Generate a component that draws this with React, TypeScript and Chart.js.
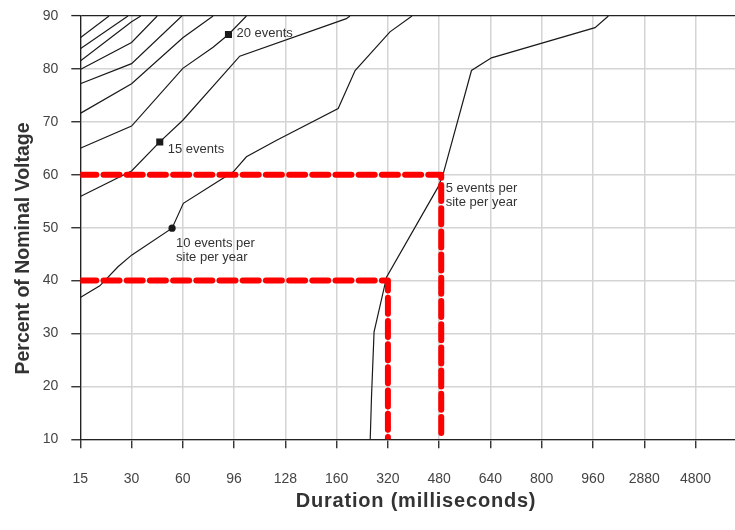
import { useEffect, useRef } from 'react';
import { Chart, registerables } from 'chart.js';

Chart.register(...registerables);

// Category labels of the duration axis (equally spaced)
const durationLabels = ['15', '30', '60', '96', '128', '160', '320', '480', '640', '800', '960', '2880', '4800'];
const voltageMin = 10;
const voltageMax = 90;
const voltageStep = 10;
const durationMax = 12.77; // plot continues a bit past the last category

// Contour lines: x = position along the duration categories, y = percent of nominal voltage
const c5X = [5.655, 5.68, 5.73, 5.975, 6.98, 7.08, 7.63, 8.02, 10.04, 10.3];
const c5Y = [10, 18.0, 30.3, 40.7, 57.7, 60.2, 79.7, 82.1, 87.8, 90];
const c10X = [0, 0.38, 0.735, 1.0, 1.79, 2.01, 2.66, 2.98, 3.24, 3.83, 5.03, 5.36, 6.04, 6.47];
const c10Y = [36.8, 39.0, 42.6, 44.8, 49.9, 54.6, 58.6, 60.5, 63.4, 66.5, 72.5, 79.7, 87.0, 90];
const c15X = [0, 1.0, 1.55, 2.0, 3.11, 5.19, 5.26];
const c15Y = [55.9, 60.7, 66.2, 70.3, 82.4, 89.5, 90];
const c20X = [0, 1.0, 2.0, 2.59, 2.89, 3.24];
const c20Y = [65.0, 69.2, 80.1, 84.1, 86.5, 90];
const c25X = [0, 1.0, 2.0, 2.59];
const c25Y = [71.6, 77.2, 85.9, 90];
const c30X = [0, 1.0, 1.98];
const c30Y = [77.2, 81.0, 90];
const c35X = [0, 1.0, 1.5];
const c35Y = [79.9, 85.0, 90];
const c40X = [0, 1.0, 1.18];
const c40Y = [81.5, 88.9, 90];
const c45X = [0, 0.93];
const c45Y = [83.8, 90];
const c50X = [0, 0.56];
const c50Y = [85.9, 90];

// Labelled markers on the contours
const markerX = [1.79, 1.55, 2.89];
const markerY = [49.9, 66.2, 86.5];
const markerShape = ['circle', 'rect', 'rect'];

// Red threshold guides
const guide40X = [0, 6, 6];
const guide40Y = [40, 40, 10];
const guide60X = [0, 7.04, 7.04];
const guide60Y = [60, 60, 10];

// Annotation texts with their data anchors
const noteText = [['20 events'], ['15 events'], ['10 events per', 'site per year'], ['5 events per', 'site per year']];
const noteX = [2.89, 1.55, 1.79, 7.04];
const noteY = [86.5, 66.2, 49.9, 60];

const xTitle = 'Duration (milliseconds)';
const yTitle = 'Percent of Nominal Voltage';

const FONT = '"Liberation Sans", Arial, sans-serif';

const pts = (xs: number[], ys: number[]) => xs.map((x, i) => ({ x, y: ys[i] }));

export default function App() {
  const ref = useRef<HTMLCanvasElement | null>(null);

  useEffect(() => {
    if (!ref.current) return;

    const noteOffsets = [
      { dx: 8, dy: -1 },
      { dx: 8, dy: 7.5 },
      { dx: 4, dy: 15 },
      { dx: 4.5, dy: 13.5 },
    ];

    const overlay = {
      id: 'overlay',
      afterDatasetsDraw(chart: any) {
        const { ctx, scales } = chart;
        const xs = scales.x;
        const ys = scales.y;
        ctx.save();
        ctx.fillStyle = '#333';
        ctx.font = `13px ${FONT}`;
        ctx.textAlign = 'left';
        ctx.textBaseline = 'middle';
        noteText.forEach((lines, i) => {
          const px = xs.getPixelForValue(noteX[i]) + noteOffsets[i].dx;
          const py = ys.getPixelForValue(noteY[i]) + noteOffsets[i].dy;
          lines.forEach((t, j) => ctx.fillText(t, px, py + j * 14));
        });
        ctx.restore();
      },
      afterDraw(chart: any) {
        const { ctx, chartArea } = chart;
        ctx.save();
        ctx.fillStyle = '#333';
        ctx.font = `bold 20px ${FONT}`;
        ctx.textBaseline = 'alphabetic';
        ctx.textAlign = 'center';
        try { (ctx as any).letterSpacing = '0.8px'; } catch (e) {}
        ctx.fillText(xTitle, 416, chartArea.bottom + 67.5);
        try { (ctx as any).letterSpacing = '0px'; } catch (e) {}
        ctx.translate(chartArea.left - 51, 248.5);
        ctx.rotate(-Math.PI / 2);
        ctx.font = `bold 19.5px ${FONT}`;
        ctx.fillText(yTitle, 0, 0);
        ctx.restore();
      },
    };

    const contour = (xs: number[], ys: number[]) => ({
      type: 'line' as const,
      data: pts(xs, ys),
      borderColor: '#1a1a1a',
      borderWidth: 1.2,
      pointRadius: 0,
      tension: 0,
      fill: false,
      order: 3,
    });

    const guide = (xs: number[], ys: number[]) => ({
      type: 'line' as const,
      data: pts(xs, ys),
      borderColor: '#ff0000',
      borderWidth: 6,
      borderDash: [16, 7.2],
      borderCapStyle: 'round' as const,
      borderJoinStyle: 'round' as const,
      pointRadius: 0,
      tension: 0,
      fill: false,
      order: 1,
    });

    const chart = new Chart(ref.current, {
      type: 'line',
      data: {
        datasets: [
          guide(guide40X, guide40Y),
          guide(guide60X, guide60Y),
          {
            type: 'scatter' as const,
            data: pts(markerX, markerY),
            pointStyle: markerShape as any,
            pointRadius: [3.6, 5, 5],
            pointBackgroundColor: '#1a1a1a',
            pointBorderColor: '#1a1a1a',
            pointBorderWidth: 0,
            showLine: false,
            order: 2,
          } as any,
          contour(c5X, c5Y),
          contour(c10X, c10Y),
          contour(c15X, c15Y),
          contour(c20X, c20Y),
          contour(c25X, c25Y),
          contour(c30X, c30Y),
          contour(c35X, c35Y),
          contour(c40X, c40Y),
          contour(c45X, c45Y),
          contour(c50X, c50Y),
        ] as any,
      },
      options: {
        responsive: false,
        animation: false,
        layout: { autoPadding: false, padding: { top: 16, right: 0, left: 0, bottom: 0 } },
        plugins: {
          legend: { display: false },
          tooltip: { enabled: false },
          title: { display: false },
        },
        scales: {
          x: {
            type: 'linear',
            min: 0,
            max: durationMax,
            afterBuildTicks: (s: any) => {
              s.ticks = durationLabels.map((_, i) => ({ value: i }));
            },
            afterFit: (s: any) => {
              s.height = 90.7;
              s.paddingLeft = 0;
              s.paddingRight = 0;
            },
            ticks: {
              autoSkip: false,
              maxRotation: 0,
              padding: 22.5,
              color: '#444',
              font: { family: FONT, size: 14 },
              callback: (v: any) => durationLabels[Math.round(Number(v))] ?? '',
            },
            grid: {
              color: '#d4d4d4',
              lineWidth: 1.5,
              tickLength: 9,
              tickColor: '#222',
              tickWidth: 1.3,
            },
            border: { color: '#222', width: 1.3 },
          },
          y: {
            type: 'linear',
            min: voltageMin,
            max: voltageMax,
            afterFit: (s: any) => {
              s.width = 80.3;
              s.paddingTop = 0;
              s.paddingBottom = 0;
            },
            ticks: {
              stepSize: voltageStep,
              padding: 13,
              color: '#444',
              font: { family: FONT, size: 14 },
            },
            grid: {
              color: (c: any) => (c.tick && c.tick.value === voltageMax ? '#222' : '#d4d4d4'),
              lineWidth: (c: any) => (c.tick && c.tick.value === voltageMax ? 1.2 : 1.5),
              tickLength: 9,
              tickColor: '#222',
              tickWidth: 1.3,
            },
            border: { color: '#222', width: 1.3 },
          },
        },
      } as any,
      plugins: [overlay],
    });

    return () => chart.destroy();
  }, []);

  return (
    <div style={{ position: 'absolute', left: 0, top: 0, width: 735, height: 530, background: '#fff' }}>
      <canvas ref={ref} width={735} height={530} style={{ display: 'block', width: 735, height: 530 }} />
    </div>
  );
}
